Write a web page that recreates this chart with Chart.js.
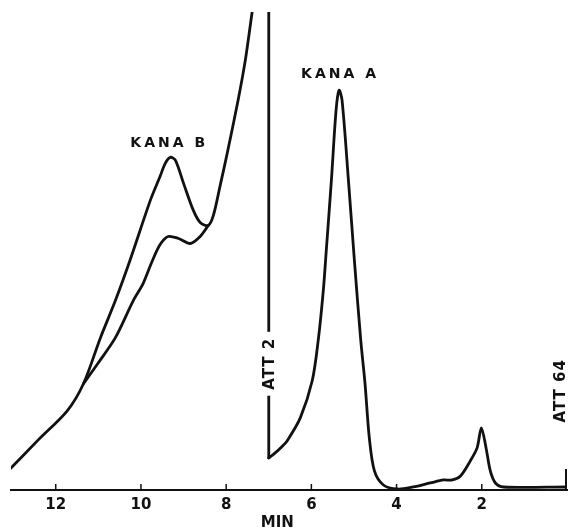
<!DOCTYPE html>
<html>
<head>
<meta charset="utf-8">
<script src="https://cdn.jsdelivr.net/npm/chart.js@4/dist/chart.umd.min.js"></script>
<style>
  html, body { margin: 0; padding: 0; background: #fff; }
  #wrap { width: 575px; height: 531px; }
</style>
</head>
<body>
<div id="wrap"><canvas id="chromChart"></canvas></div>
<script>
// retention time (min) and detector signal
const upperTime   = [13.05, 12.41, 11.73, 11.35, 10.95, 10.60, 10.25, 9.78, 9.55, 9.43, 9.31, 9.19, 9.00, 8.77, 8.61, 8.42, 8.30, 8.14, 7.97, 7.72, 7.55, 7.39, 7.31];
const upperSignal = [22, 50, 79, 106, 152, 189, 230, 289, 313, 326, 332, 329, 306, 279, 267, 264, 274, 304, 337, 389, 429, 477, 500];

const lowerTime   = [11.35, 11.00, 10.60, 10.18, 9.95, 9.73, 9.55, 9.36, 9.12, 8.84, 8.61, 8.42];
const lowerSignal = [106, 127, 152, 189, 206, 229, 245, 253, 251, 246, 253, 264];

// pen step where the attenuation was changed
const stepTime   = [7.00, 7.00];
const stepSignal = [500, 32];

const mainTime   = [7.00, 6.85, 6.70, 6.57, 6.26, 5.98, 5.84, 5.72, 5.65, 5.53, 5.42, 5.35, 5.28, 5.13, 4.99, 4.84, 4.74, 4.64, 4.52, 4.31, 3.98, 3.61, 3.21, 2.90, 2.69, 2.50, 2.27, 2.11, 2.01, 1.90, 1.80, 1.68, 1.49, 0.00];
const mainSignal = [32, 37, 43, 49, 72, 109, 149, 199, 239, 309, 379, 399, 389, 309, 229, 149, 106, 52, 19, 5, 1, 3, 7, 10, 10, 14, 29, 42, 62, 42, 19, 7, 3, 3];

const tickValues = [2, 4, 6, 8, 10, 12];

// text labels: [text, time, signal]
const peakLabels = [
    ['KANA B', 9.36, 346],
    ['KANA A', 5.35, 415]
];
const attLabels = [
    ['ATT 2', 7.00, 126],
    ['ATT 64', 0.16, 99]
];

function toPoints(xs, ys) {
    return xs.map((x, i) => ({ x: x, y: ys[i] }));
}

const ink = '#111';
const font = "'DejaVu Sans', sans-serif";

const tracePlugin = {
    id: 'traceDecor',
    afterDatasetsDraw(chart) {
        const ctx = chart.ctx;
        const xs = chart.scales.x;
        const ys = chart.scales.y;
        const bottom = chart.chartArea.bottom;
        ctx.save();
        ctx.strokeStyle = ink;
        ctx.fillStyle = ink;

        // small tick marks pointing up from the axis
        ctx.lineWidth = 1.5;
        tickValues.forEach(v => {
            const x = xs.getPixelForValue(v);
            ctx.beginPath();
            ctx.moveTo(x, bottom - 6);
            ctx.lineTo(x, bottom);
            ctx.stroke();
        });

        // attenuation marker at the start of the run
        ctx.lineWidth = 2;
        const x0 = xs.getPixelForValue(0) - 1;
        ctx.beginPath();
        ctx.moveTo(x0, bottom - 21);
        ctx.lineTo(x0, bottom);
        ctx.stroke();

        // peak names
        ctx.font = 'bold 14px ' + font;
        ctx.letterSpacing = '3px';
        ctx.textAlign = 'center';
        ctx.textBaseline = 'middle';
        peakLabels.forEach(l => {
            ctx.fillText(l[0], xs.getPixelForValue(l[1]) + 1, ys.getPixelForValue(l[2]));
        });

        // rotated attenuation notes, blanking the trace behind them
        ctx.font = 'bold 15px ' + font;
        ctx.letterSpacing = '1px';
        attLabels.forEach(l => {
            const x = xs.getPixelForValue(l[1]);
            const y = ys.getPixelForValue(l[2]);
            const w = ctx.measureText(l[0]).width;
            ctx.save();
            ctx.translate(x, y);
            ctx.rotate(-Math.PI / 2);
            ctx.fillStyle = '#fff';
            ctx.fillRect(-w / 2 - 6, -9, w + 12, 18);
            ctx.fillStyle = ink;
            ctx.fillText(l[0], 0, 1);
            ctx.restore();
        });

        // axis title
        ctx.font = 'bold 15px ' + font;
        ctx.letterSpacing = '0px';
        ctx.fillText('MIN', xs.getPixelForValue(6.8), bottom + 33);
        ctx.restore();
    }
};

const lineStyle = {
    borderColor: ink,
    borderWidth: 2.8,
    pointRadius: 0,
    tension: 0.3,
    fill: false,
    borderCapStyle: 'round',
    borderJoinStyle: 'round'
};

new Chart(document.getElementById('chromChart'), {
    type: 'line',
    data: {
        datasets: [
            Object.assign({ label: 'upper', data: toPoints(upperTime, upperSignal) }, lineStyle),
            Object.assign({ label: 'lower', data: toPoints(lowerTime, lowerSignal) }, lineStyle),
            Object.assign({ label: 'step', data: toPoints(stepTime, stepSignal) }, lineStyle, { tension: 0 }),
            Object.assign({ label: 'main', data: toPoints(mainTime, mainSignal) }, lineStyle)
        ]
    },
    options: {
        responsive: true,
        maintainAspectRatio: false,
        animation: false,
        layout: { padding: { top: 12, left: 11, right: 8, bottom: 11 } },
        plugins: {
            legend: { display: false },
            tooltip: { enabled: false }
        },
        scales: {
            x: {
                type: 'linear',
                reverse: true,
                min: 0,
                max: 13.05,
                grid: { drawOnChartArea: false, drawTicks: false },
                border: { display: true, color: ink, width: 2 },
                ticks: {
                    stepSize: 2,
                    includeBounds: false,
                    padding: 6,
                    color: ink,
                    maxRotation: 0,
                    autoSkip: false,
                    font: { family: font, size: 15, weight: 'bold' },
                    callback: v => (v === 0 ? '' : v)
                }
            },
            y: {
                display: false,
                min: 0,
                max: 477
            }
        }
    },
    plugins: [tracePlugin]
});
</script>
</body>
</html>
